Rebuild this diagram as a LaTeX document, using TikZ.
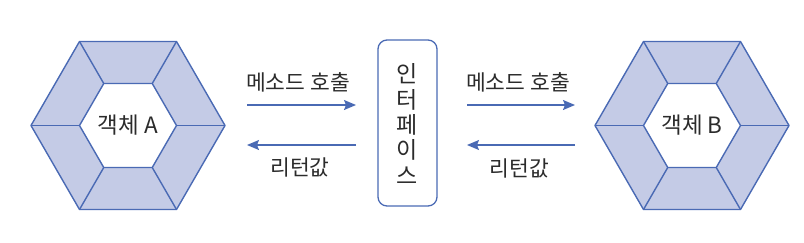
\documentclass[tikz,border=0pt]{standalone}
\usepackage{fontspec}
\newfontfamily\kr{Noto Sans CJK KR}
\usetikzlibrary{arrows.meta}
\definecolor{hexfill}{HTML}{C4CBE6}
\definecolor{hexline}{HTML}{4A6AB4}
\definecolor{txt}{HTML}{2B2B2B}
\tikzset{
  hexobj/.pic={
    \draw[hexline, line width=1.4pt, fill=hexfill, line join=round]
      (0:97) \foreach \a in {60,120,...,300}{ -- (\a:97)} -- cycle;
    \draw[hexline, line width=1.4pt, fill=white, line join=round]
      (0:48.5) \foreach \a in {60,120,...,300}{ -- (\a:48.5)} -- cycle;
    \foreach \a in {0,60,...,300} \draw[hexline, line width=1.4pt] (\a:48.5) -- (\a:97);
  },
  objlabel/.style={font=\kr\fontsize{22.5}{25}\selectfont, text=txt, inner sep=0pt},
  arrlabel/.style={font=\kr\fontsize{21.5}{25}\selectfont, text=txt, inner sep=0pt},
  ifbox/.style={draw=hexline, line width=1.3pt, rounded corners=9pt,
    minimum width=59pt, minimum height=166pt, inner sep=0pt},
  iftext/.style={font=\kr\fontsize{23}{25.3}\selectfont, text=txt, align=center, inner sep=0pt},
  conn/.style={hexline, line width=1.3pt, -{Stealth[length=12pt, width=10pt, inset=2pt]}},
}
\begin{document}
\begin{tikzpicture}[x=1pt, y=-1pt]
  \useasboundingbox (0,0) rectangle (804,242);
  % object A
  \pic at (128,125.5) {hexobj};
  \node[objlabel] (objA) at (128,125.5) {객체 A};
  % object B
  \pic at (692,125.5) {hexobj};
  \node[objlabel] (objB) at (692,125.5) {객체 B};
  % interface
  \node[ifbox] (iface) at (407.5,123) {};
  \node[iftext] (iftxt) at (407.5,124) {인\\터\\페\\이\\스};
  % arrows left
  \coordinate (l1s) at (247,105);
  \coordinate (l1e) at (356,105);
  \coordinate (l2s) at (356,145);
  \coordinate (l2e) at (247,145);
  \draw[conn] (l1s) -- (l1e);
  \draw[conn] (l2s) -- (l2e);
  \node[arrlabel] (lcall) at (298,82) {메소드 호출};
  \node[arrlabel] (lret) at (300,167) {리턴값};
  % arrows right
  \coordinate (r1s) at (467,105);
  \coordinate (r1e) at (575,105);
  \coordinate (r2s) at (575,145);
  \coordinate (r2e) at (467,145);
  \draw[conn] (r1s) -- (r1e);
  \draw[conn] (r2s) -- (r2e);
  \node[arrlabel] (rcall) at (518,82) {메소드 호출};
  \node[arrlabel] (rret) at (519.5,168) {리턴값};
\end{tikzpicture}
\end{document}
